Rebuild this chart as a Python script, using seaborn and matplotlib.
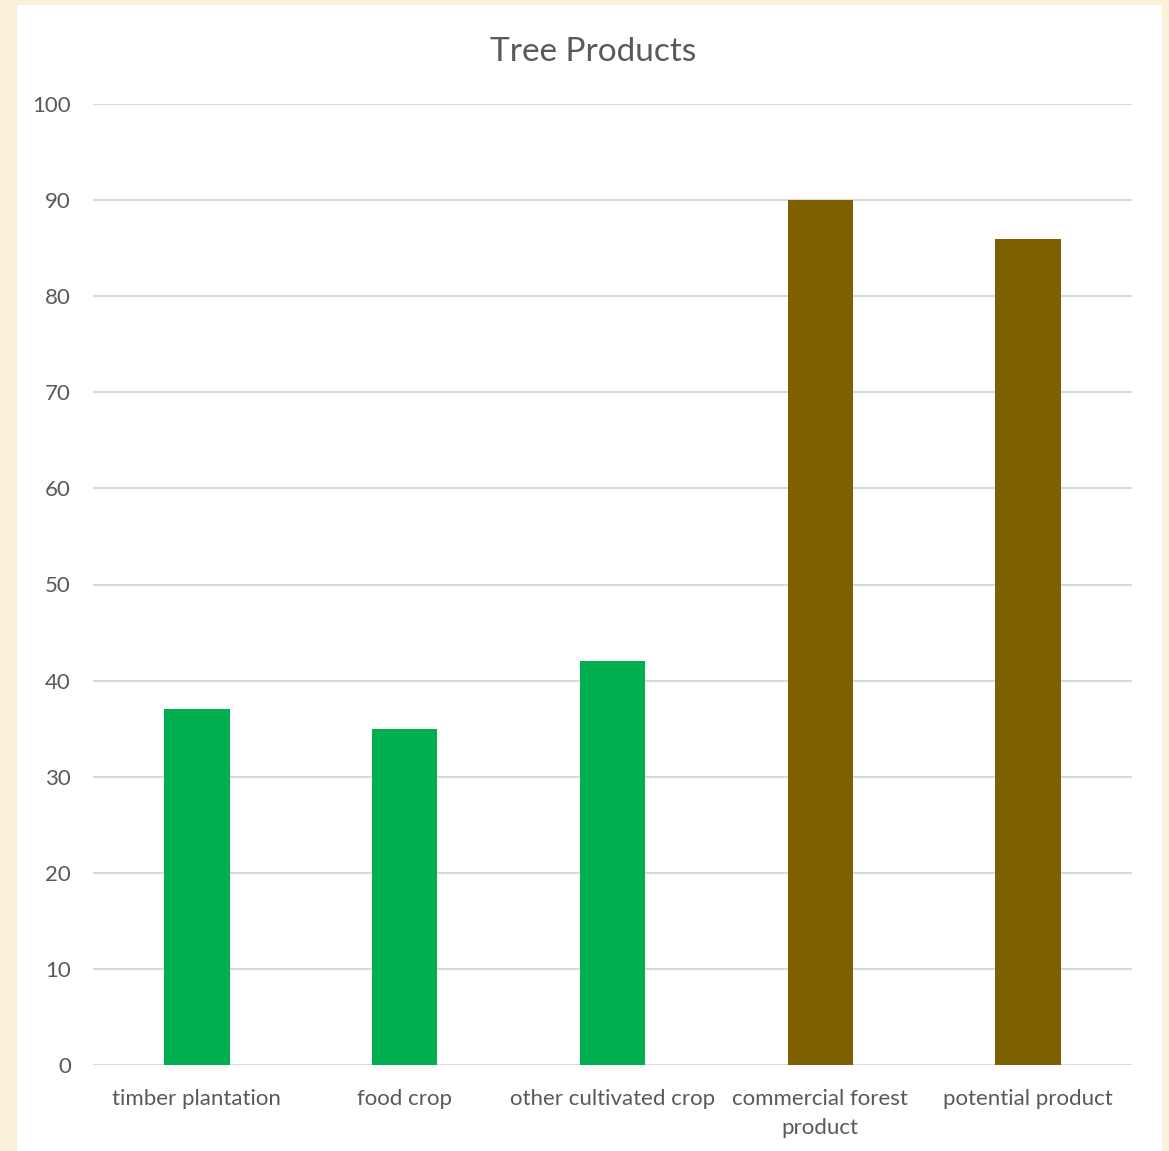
import matplotlib
matplotlib.use("Agg")
import matplotlib.pyplot as plt
from matplotlib.patches import Rectangle
import pandas as pd
import seaborn as sns

categories = ["timber plantation", "food crop", "other cultivated crop",
              "commercial forest\nproduct", "potential product"]
values = [37, 35, 42, 90, 86]
bar_colors = ["#00B050", "#00B050", "#00B050", "#7F6000", "#7F6000"]
y_ticks = [0, 10, 20, 30, 40, 50, 60, 70, 80, 90, 100]

df = pd.DataFrame({"category": categories, "value": values})

sns.set_theme(style="white")
plt.rcParams["font.family"] = ["Lato", "DejaVu Sans"]

text_color = "#595959"
grid_color = "#D9D9D9"

fig = plt.figure(figsize=(11.69, 11.51), dpi=100)
fig.patch.set_facecolor("#FBF0D8")
# white chart panel over the parchment background
fig.patches.append(Rectangle((17 / 1169, 0), (1162 - 17) / 1169, 1 - 5 / 1151,
                             transform=fig.transFigure, facecolor="white",
                             edgecolor="none", zorder=-10))

ax = fig.add_axes([93 / 1169, 1 - 1065 / 1151, (1132 - 93) / 1169, (1065 - 104) / 1151])
ax.set_facecolor("none")
ax.set_zorder(5)

sns.barplot(data=df, x="category", y="value", hue="category",
            palette=bar_colors, legend=False, width=0.315, saturation=1,
            linewidth=0, ax=ax, zorder=3)

ax.set_ylim(0, 100)
ax.set_xlim(-0.5, 4.5)
ax.set_yticks(y_ticks)
ax.yaxis.grid(True, color=grid_color, linewidth=1.5, zorder=0)
ax.set_axisbelow(True)
for s in ax.spines.values():
    s.set_visible(False)
ax.axhline(0, color=grid_color, linewidth=1.5, zorder=1)

ax.set_xlabel("")
ax.set_ylabel("")
ax.tick_params(axis="both", length=0, labelsize=16, labelcolor=text_color)
ax.tick_params(axis="y", pad=16)
ax.tick_params(axis="x", pad=17)
for lbl in ax.get_xticklabels():
    lbl.set_linespacing(1.6)

fig.text(593 / 1169, 1 - 52 / 1151, "Tree Products", ha="center", va="center",
         fontsize=24, color=text_color)

fig.savefig("out.png", dpi=100, facecolor=fig.get_facecolor())
